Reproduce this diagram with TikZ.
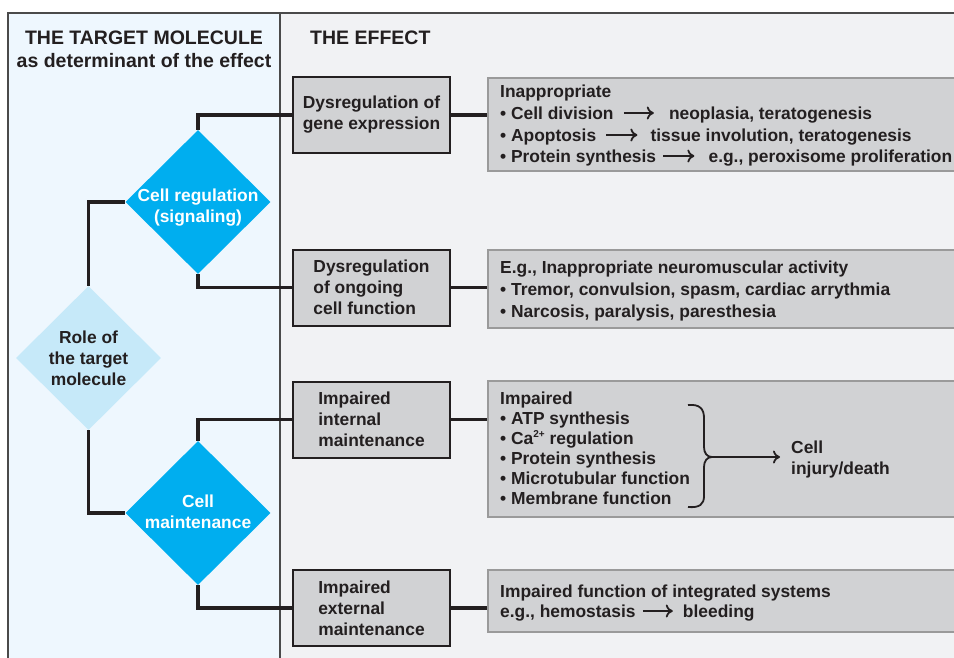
\documentclass[tikz,border=0pt]{standalone}
\usepackage{fontspec}
\setmainfont{Liberation Sans}
\usetikzlibrary{shapes.geometric,arrows.meta}

\definecolor{ink}{HTML}{231F20}
\definecolor{leftbg}{HTML}{EEF7FE}
\definecolor{rightbg}{HTML}{F1F2F4}
\definecolor{boxfill}{HTML}{D1D2D4}
\definecolor{framecol}{HTML}{4A4A4A}
\definecolor{cyanfill}{HTML}{00AEEF}
\definecolor{palecyan}{HTML}{C6E9F9}
\definecolor{outcomeedge}{HTML}{9A9A9A}

\newcommand\bodytxt{\bfseries\fontsize{17.4}{21}\selectfont}
\newcommand\headtxt{\bfseries\fontsize{19.5}{24}\selectfont}
\newcommand\supnum[1]{{\fontsize{10}{10}\selectfont\raisebox{6.5pt}{#1}}}

\begin{document}
\begin{tikzpicture}[x=1pt,y=-1pt,
  every node/.style={font=\bodytxt, text=ink},
  causebox/.style={draw=ink, line width=2pt, fill=boxfill,
    minimum width=157pt, minimum height=76pt, inner sep=0pt, align=left},
  outbox/.style={draw=outcomeedge, line width=1.8pt, fill=boxfill,
    anchor=north west, minimum width=520pt, inner sep=0pt},
  roledia/.style={diamond, minimum width=145pt, minimum height=144pt,
    inner sep=0pt},
  diatext/.style={align=center, inner sep=0pt},
  link/.style={draw=ink, line width=3.5pt},
  seg/.style={anchor=base west, inner sep=0pt, text height=12pt, text depth=0pt},
  txtarrow/.style={draw=ink, line width=1.8pt, -{To[length=7pt,width=13pt]}},
  head/.style={font=\headtxt, inner sep=0pt}
]
\useasboundingbox (0,0) rectangle (954,657);
\clip (0,0) rectangle (954,657);
\fill[white] (0,0) rectangle (954,657);

% two panels and their frame
\fill[leftbg] (8,13) rectangle (280,665);
\fill[rightbg] (280,13) rectangle (970,665);
\draw[framecol, line width=1.5pt] (8,665) -- (8,13) -- (970,13);
\draw[framecol, line width=1.2pt] (280,13) -- (280,665);

% column headings
\node[head, anchor=base] (h1) at (144,44) {THE TARGET MOLECULE};
\node[head, anchor=base] (h2) at (144,67) {as determinant of the effect};
\node[head, anchor=base west] (h3) at (310,44) {THE EFFECT};

% decision diamonds
\node[roledia, fill=palecyan] (role) at (88.5,358) {};
\node[diatext] (roletxt) at (88.5,358) {Role of\\the target\\molecule};
\node[roledia, fill=cyanfill] (reg) at (198,202) {};
\node[diatext, text=white] (regtxt) at (198,208) {Cell regulation\\(signaling)};
\node[roledia, fill=cyanfill] (maint) at (198,513) {};
\node[diatext, text=white] (mainttxt) at (198,512) {Cell\\maintenance};

% effect boxes
\node[causebox] (gene) at (371.5,115) {Dysregulation of\\gene expression};
\node[causebox] (func) at (371.5,287.5) {Dysregulation\\of ongoing\\cell function};
\node[causebox] (intm) at (371.5,419.5) {Impaired\\internal\\maintenance};
\node[causebox] (extm) at (371.5,608) {Impaired\\external\\maintenance};

% outcome boxes
\node[outbox, minimum height=93pt] (outA) at (487,77) {};
\node[outbox, minimum height=78pt] (outB) at (487,249) {};
\node[outbox, minimum height=136pt] (outC) at (487,380) {};
\node[outbox, minimum height=62pt] (outD) at (487,569) {};

% connectors
\draw[link] (role.north) |- (reg.west);
\draw[link] (role.south) |- (maint.west);
\draw[link] (reg.north) |- (gene.west);
\draw[link] (reg.south) |- (func.west);
\draw[link] (maint.north) |- (intm.west);
\draw[link] (maint.south) |- (extm.west);
\draw[link] (gene.east) -- (gene.east -| outA.west);
\draw[link] (func.east) -- (func.east -| outB.west);
\draw[link] (intm.east) -- (intm.east -| outC.west);
\draw[link] (extm.east) -- (extm.east -| outD.west);

% outcome A
\node[seg] (a0) at (500,97) {Inappropriate};
\node[seg] (a1) at (500,119) {\textbullet\ Cell division};
\node[seg] (b1) at ([xshift=55pt]a1.base east) {neoplasia, teratogenesis};
\node[seg] (a2) at (500,141) {\textbullet\ Apoptosis};
\node[seg] (b2) at ([xshift=54pt]a2.base east) {tissue involution, teratogenesis};
\node[seg] (a3) at (500,162) {\textbullet\ Protein synthesis};
\node[seg] (b3) at ([xshift=52pt]a3.base east) {e.g., peroxisome proliferation};
\draw[txtarrow] ([xshift=10pt]a1.east) -- ([xshift=-15pt]b1.west);
\draw[txtarrow] ([xshift=10pt]a2.east) -- ([xshift=-13pt]b2.west);
\draw[txtarrow] ([xshift=7pt]a3.east) -- ([xshift=-14pt]b3.west);

% outcome B
\node[seg] (e0) at (500,273) {E.g., Inappropriate neuromuscular activity};
\node[seg] (e1) at (500,295) {\textbullet\ Tremor, convulsion, spasm, cardiac arrythmia};
\node[seg] (e2) at (500,317) {\textbullet\ Narcosis, paralysis, paresthesia};

% outcome C
\node[seg] (c0) at (500,404) {Impaired};
\node[seg] (c1) at (500,424) {\textbullet\ ATP synthesis};
\node[seg] (c2) at (500,444) {\textbullet\ Ca\supnum{2+} regulation};
\node[seg] (c3) at (500,464) {\textbullet\ Protein synthesis};
\node[seg] (c4) at (500,484) {\textbullet\ Microtubular function};
\node[seg] (c5) at (500,504) {\textbullet\ Membrane function};
% curly brace gathering the five items
\coordinate (bracetip) at (712,457);
\draw[ink, line width=1.8pt]
  (688,405) .. controls (700,404) and (704,409) .. (704,418)
  -- (704,447) .. controls (704,453) and (707,457) .. (bracetip)
  .. controls (707,457) and (704,461) .. (704,467)
  -- (704,496) .. controls (704,504) and (700,508) .. (688,507);
\node[seg] (cell) at (791,453) {Cell};
\node[seg] (injury) at (791,474) {injury/death};
\draw[txtarrow, shorten >=11pt] (bracetip) -- (bracetip -| cell.west);

% outcome D
\node[seg] (d0) at (500,597) {Impaired function of integrated systems};
\node[seg] (d1) at (500,617) {e.g., hemostasis};
\node[seg] (d2) at ([xshift=47pt]d1.base east) {bleeding};
\draw[txtarrow] ([xshift=7pt]d1.east) -- ([xshift=-10pt]d2.west);
\end{tikzpicture}
\end{document}
